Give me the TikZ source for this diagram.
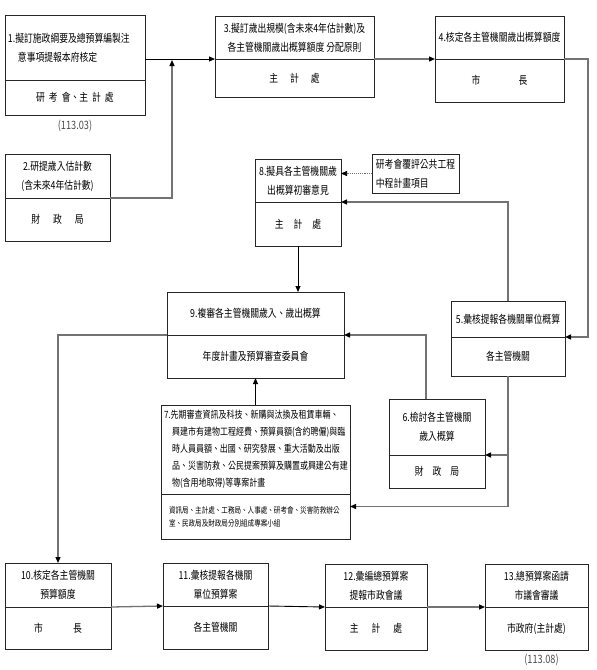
\documentclass[tikz,border=0pt]{standalone}
\usepackage{fontspec}
\newfontfamily\cjk[FakeStretch=0.8]{Noto Sans CJK TC}
\usetikzlibrary{positioning,arrows.meta}
\definecolor{linegray}{gray}{0.45}
\definecolor{boxgray}{gray}{0.15}

\tikzset{
  part/.style={draw=boxgray, line width=0.9pt, outer sep=0pt, inner sep=2pt, align=center,
    font=\cjk\fontsize{11}{19}\selectfont},
  head/.style={part, anchor=north west},
  foot/.style={part, below=0pt of #1},
  link/.style={-{Triangle[length=6pt,width=5pt,color=black]}, line width=0.9pt},
  graylink/.style={link, draw=linegray, line width=1.3pt},
  datemark/.style={font=\cjk\fontsize{11.5}{12}\selectfont, text=black!70}
}

\begin{document}
\begin{tikzpicture}[x=1pt,y=-1pt]
  \useasboundingbox (0,0) rectangle (597,670);

  % upper row
  \node[head, minimum width=140, minimum height=65, text width=134, align=left] (b1) at (5,15)
    {1.擬訂施政綱要及總預算編製注\\\hspace*{10pt}意事項提報本府核定};
  \node[foot=b1, minimum width=140, minimum height=35] (b1x)
    {研\hspace{4pt}考\hspace{4pt}會、主\hspace{4pt}計\hspace{4pt}處};
  \node[datemark, below=2pt of b1x] (d1) {(113.03)};

  \node[head, minimum width=105, minimum height=44] (b2) at (5,154)
    {2.研提歲入估計數\\(含未來4年估計數)};
  \node[foot=b2, minimum width=105, minimum height=43] (b2x)
    {財\hspace{13pt}政\hspace{13pt}局};

  \node[head, minimum width=159, minimum height=43] (b3) at (215,16)
    {3.擬訂歲出規模(含未來4年估計數)及\\各主管機關歲出概算額度 分配原則};
  \node[foot=b3, minimum width=159, minimum height=38] (b3x)
    {主\hspace{12pt}計\hspace{12pt}處};

  \node[head, minimum width=129, minimum height=43] (b4) at (435,16)
    {4.核定各主管機關歲出概算額度};
  \node[foot=b4, minimum width=129, minimum height=43] (b4x)
    {市\hspace{38pt}長};

  % middle
  \node[head, minimum width=86, minimum height=43] (b8) at (255,159)
    {8.擬具各主管機關歲\\出概算初審意見};
  \node[foot=b8, minimum width=86, minimum height=44] (b8x)
    {主\hspace{10pt}計\hspace{10pt}處};

  \node[part, anchor=north west, minimum width=87, minimum height=39, align=left] (note) at (372,154)
    {研考會覆評公共工程\\中程計畫項目};

  \node[head, minimum width=177, minimum height=43] (b9) at (167,292)
    {9.複審各主管機關歲入、歲出概算};
  \node[foot=b9, minimum width=177, minimum height=43] (b9x)
    {年度計畫及預算審查委員會};

  \node[head, minimum width=114, minimum height=36] (b5) at (451,301)
    {5.彙核提報各機關單位概算};
  \node[foot=b5, minimum width=114, minimum height=39] (b5x)
    {各主管機關};

  \node[head, minimum width=96, minimum height=56] (b6) at (389,399)
    {6.檢討各主管機關\\歲入概算};
  \node[foot=b6, minimum width=96, minimum height=33] (b6x)
    {財\hspace{9pt}政\hspace{9pt}局};

  \node[head, minimum width=189, minimum height=89, text width=183, align=left,
    font=\cjk\fontsize{10}{17}\selectfont] (b7) at (161,405)
    {7.先期審查資訊及科技、新購與汰換及租賃車輛、\\
     \hspace*{8pt}興建市有建物工程經費、預算員額(含約聘僱)與臨\\
     \hspace*{8pt}時人員員額、出國、研究發展、重大活動及出版\\
     \hspace*{8pt}品、災害防救、公民提案預算及購置或興建公有建\\
     \hspace*{8pt}物(含用地取得)等專案計畫};
  \node[foot=b7, minimum width=189, minimum height=45, text width=173, align=left,
    font=\cjk\fontsize{8.2}{13}\selectfont] (b7x)
    {資訊局、主計處、工務局、人事處、研考會、災害防救辦公\\室、民政局及財政局分別組成專案小組};

  % lower row
  \node[head, minimum width=106, minimum height=44] (b10) at (5,563)
    {10.核定各主管機關\\預算額度};
  \node[foot=b10, minimum width=106, minimum height=42] (b10x)
    {市\hspace{30pt}長};

  \node[head, minimum width=105, minimum height=43] (b11) at (163,563)
    {11.彙核提報各機關\\單位預算案};
  \node[foot=b11, minimum width=105, minimum height=43] (b11x)
    {各主管機關};

  \node[head, minimum width=102, minimum height=43] (b12) at (325,564)
    {12.彙編總預算案\\提報市政會議};
  \node[foot=b12, minimum width=102, minimum height=43] (b12x)
    {主\hspace{13pt}計\hspace{13pt}處};

  \node[head, minimum width=103, minimum height=43] (b13) at (485,564)
    {13.總預算案函請\\市議會審議};
  \node[foot=b13, minimum width=103, minimum height=43] (b13x)
    {市政府(主計處)};
  \node[datemark, below=1pt of b13x, xshift=5] (d13) {(113.08)};

  % connectors
  \coordinate (join) at (172,60);
  \draw[link] (b1.east |- b3.south) -- (b3.south west);
  \draw[graylink] (b2.south east) -| (join);
  \draw[graylink] (b3.south east) -- (b4.south west);
  \draw[graylink] (b4.south east) -- ++(24,0) |- (b5.south east);
  \draw[graylink] (b5.north) |- (b8.south east);
  \draw[link, draw=linegray, densely dotted, line width=0.6pt] (note.west) -- (note.west -| b8.east);
  \draw[link] (b8x.south) -- (b8x.south |- b9.north);
  \draw[graylink] ([xshift=-11]b6.north) |- (b9.south east);
  \draw[graylink] (b5x.south) |- ([yshift=10]b7x.east);
  \draw[graylink] (b5x.south |- b6.south) -- (b6.south east);
  \draw[link] (b7.north) -- (b9x.south);
  \draw[graylink] (b9.south west) -| (b10.north);
  \draw[graylink] (b10.south east) -- (b11.south west);
  \draw[link] (b11.south east) -- (b12.south west);
  \draw[graylink] (b12.south east) -- (b13.south west);
\end{tikzpicture}
\end{document}
